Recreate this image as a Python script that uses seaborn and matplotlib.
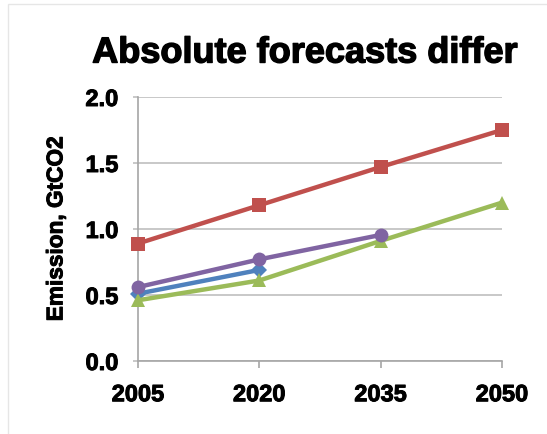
import matplotlib
matplotlib.use("Agg")
import matplotlib.pyplot as plt
import matplotlib.patheffects as pe
from matplotlib.patches import Rectangle
import seaborn as sns
import pandas as pd

# Forecast emissions (GtCO2) by year for four sources
years = ["2005", "2020", "2035", "2050"]
series_blue = [0.51, 0.69]
series_red = [0.89, 1.18, 1.47, 1.75]
series_green = [0.46, 0.61, 0.91, 1.20]
series_purple = [0.56, 0.77, 0.955]

sns.set_theme(style="white")
plt.rcParams["font.family"] = ["Liberation Sans", "DejaVu Sans"]

styles = [
    (series_blue, "#4F81BD", "D", 8),
    (series_red, "#C0504D", "s", 10),
    (series_green, "#9BBB59", "^", 10),
    (series_purple, "#8064A2", "o", 10),
]

heavy = [pe.withStroke(linewidth=0.7, foreground="black")]

fig = plt.figure(figsize=(5.47, 4.35), dpi=100)
W, H = 547, 435
ax = fig.add_axes([138 / W, 1 - 362 / H, (502 - 138) / W, (362 - 98) / H])

for vals, color, marker, ms in styles:
    df = pd.DataFrame({"pos": range(len(vals)), "value": vals})
    sns.lineplot(data=df, x="pos", y="value", ax=ax, color=color, linewidth=3.2,
                 marker=marker, markersize=ms, markeredgecolor=color,
                 markeredgewidth=0, clip_on=False, zorder=3)

ax.set_xlim(0, len(years) - 1)
ax.set_ylim(0, 2.0)
ax.set_xticks(range(len(years)))
ax.set_xticklabels(years)
ax.set_yticks([0.0, 0.5, 1.0, 1.5, 2.0])
ax.set_yticklabels(["0.0", "0.5", "1.0", "1.5", "2.0"])
ax.yaxis.grid(True, color="#BFBFBF", linewidth=1.2)
ax.xaxis.grid(False)
ax.set_axisbelow(True)

for side in ("top", "right"):
    ax.spines[side].set_visible(False)
for side in ("left", "bottom"):
    ax.spines[side].set_color("#A6A6A6")
    ax.spines[side].set_linewidth(1.2)

ax.tick_params(axis="x", which="major", direction="out", length=5, width=1.2,
               color="#A6A6A6", bottom=True, pad=11, labelsize=17)
ax.tick_params(axis="y", which="major", direction="out", length=3.6, width=1.2,
               color="#BFBFBF", left=True, pad=10.5, labelsize=17)
for lab in ax.get_xticklabels() + ax.get_yticklabels():
    lab.set_fontweight("bold")
    lab.set_color("black")
    lab.set_path_effects(heavy)

ax.set_xlabel("")
ax.set_ylabel("Emission, GtCO2", fontsize=16.3, fontweight="bold", color="black",
              labelpad=13, path_effects=heavy)

fig.text(305 / W, 1 - 54 / H, "Absolute forecasts differ", ha="center",
         va="center", fontsize=26, fontweight="bold", color="black",
         path_effects=[pe.withStroke(linewidth=1.0, foreground="black")])

# thin outer frame
fig.patches.append(Rectangle((8 / W, -0.1), 1.2, 1 - 5 / H + 0.1,
                             transform=fig.transFigure, fill=False,
                             edgecolor="#E6E6E6", linewidth=1))

fig.savefig("out.png", dpi=100, facecolor="white")
